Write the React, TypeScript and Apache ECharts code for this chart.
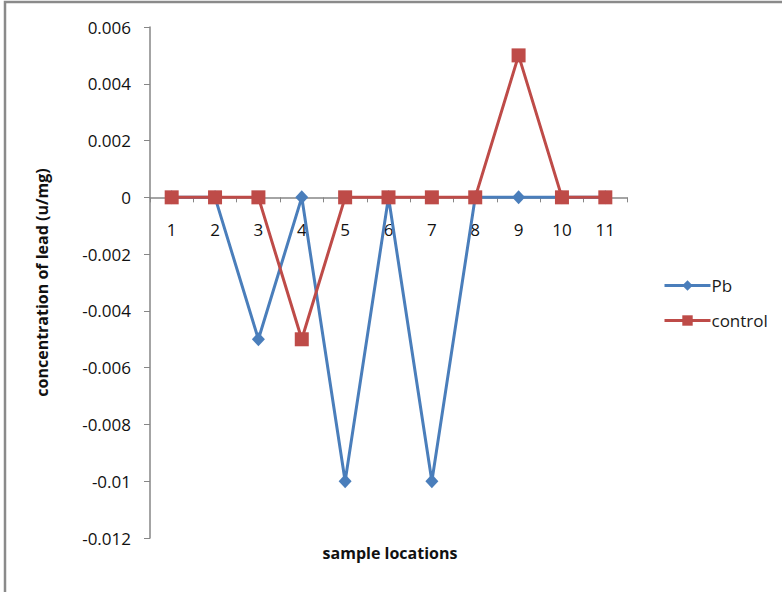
import React, { useEffect, useRef } from "react";
import * as echarts from "echarts";

// Sample locations along the category axis
const locations = ["1", "2", "3", "4", "5", "6", "7", "8", "9", "10", "11"];
// Lead concentration (u/mg) per location
const pbValues = [0, 0, -0.005, 0, -0.01, 0, -0.01, 0, 0, 0, 0];
const controlValues = [0, 0, 0, -0.005, 0, 0, 0, 0, 0.005, 0, 0];

const yMin = -0.012;
const yMax = 0.006;
const yStep = 0.002;

const FONT = "'Open Sans', 'Noto Sans', sans-serif";

// Plot box
const GRID_TOP = 27;
const GRID_BOTTOM = 54;
const CHART_H = 592;
const PLOT_H = CHART_H - GRID_TOP - GRID_BOTTOM;
// Lift the category axis from the bottom edge up to the value 0
const ZERO_LIFT = (PLOT_H * (0 - yMin)) / (yMax - yMin);

export default function App() {
  const ref = useRef<HTMLDivElement>(null);

  useEffect(() => {
    document.body.style.margin = "0";
    if (!ref.current) return;
    const chart = echarts.init(ref.current, undefined, { renderer: "svg" });
    chart.setOption({
      animation: false,
      backgroundColor: "#ffffff",
      textStyle: { fontFamily: FONT },
      grid: { left: 150, right: 155, top: GRID_TOP, bottom: GRID_BOTTOM, containLabel: false },
      legend: {
        orient: "vertical",
        left: 658,
        top: 272,
        itemGap: 18,
        itemWidth: 46,
        itemHeight: 13,
        lineStyle: { width: 3 },
        textStyle: { fontFamily: FONT, fontSize: 17, color: "#1a1a1a", padding: [0, 0, 0, -4] },
        data: ["Pb", "control"],
      },
      graphic: [
        {
          type: "rect",
          shape: { x: 5, y: 2, width: 900, height: 700 },
          style: { fill: "none", stroke: "#8a8a8a", lineWidth: 2.5 },
          silent: true,
        },
        {
          type: "text",
          x: 390,
          y: 553,
          style: {
            text: "sample locations",
            font: `bold 16px ${FONT}`,
            fill: "#111",
            align: "center",
            verticalAlign: "middle",
          },
        },
      ],
      xAxis: {
        type: "category",
        data: locations,
        boundaryGap: true,
        position: "bottom",
        offset: -ZERO_LIFT,
        axisLine: { onZero: false, lineStyle: { color: "#868686", width: 1.5 } },
        axisTick: { show: true, length: 5, lineStyle: { color: "#868686" } },
        axisLabel: { margin: 24, fontSize: 17, color: "#111", fontFamily: FONT },
        splitLine: { show: false },
        z: 1,
      },
      yAxis: {
        type: "value",
        min: yMin,
        max: yMax,
        interval: yStep,
        name: "concentration of lead (u/mg)",
        nameLocation: "middle",
        nameRotate: 90,
        nameGap: 100,
        nameTextStyle: { fontFamily: FONT, fontSize: 16, fontWeight: "bold", color: "#111" },
        axisLine: { show: true, lineStyle: { color: "#868686", width: 1.5 } },
        axisTick: { show: true, length: 6, lineStyle: { color: "#868686" } },
        axisLabel: {
          margin: 19,
          fontSize: 17,
          color: "#111",
          fontFamily: FONT,
          formatter: (v: number) => parseFloat(v.toFixed(3)).toString(),
        },
        splitLine: { show: false },
      },
      series: [
        {
          name: "Pb",
          type: "line",
          data: pbValues,
          symbol: "diamond",
          symbolSize: [13, 14],
          lineStyle: { color: "#4A7EBB", width: 3 },
          itemStyle: { color: "#4A7EBB" },
          z: 2,
        },
        {
          name: "control",
          type: "line",
          data: controlValues,
          symbol: "rect",
          symbolSize: 14,
          lineStyle: { color: "#BE4B48", width: 3 },
          itemStyle: { color: "#BE4B48" },
          z: 3,
        },
      ],
    });
    return () => chart.dispose();
  }, []);

  return <div ref={ref} style={{ width: 782, height: CHART_H }} />;
}
